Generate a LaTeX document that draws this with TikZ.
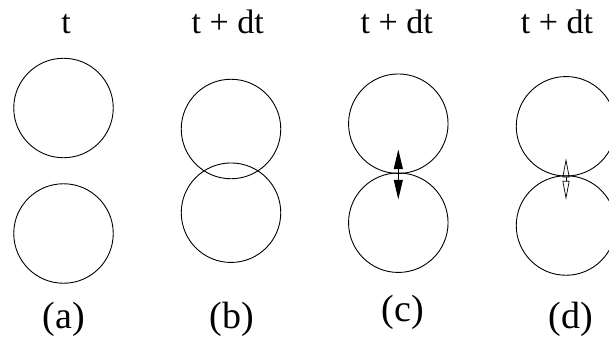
\documentclass[tikz,border=0pt]{standalone}
\usepackage{fontspec}
\setmainfont{Liberation Serif}
\usetikzlibrary{arrows.meta}
\begin{document}
\begin{tikzpicture}[x=1pt,y=-1pt,
  ball/.style={circle,draw,line width=0.9pt,minimum size=99.5pt,inner sep=0pt},
  toplabel/.style={anchor=base,font=\fontsize{34}{40}\selectfont,inner sep=0pt},
  botlabel/.style={anchor=base,font=\fontsize{38}{44}\selectfont,inner sep=0pt},
  fullarrow/.style={line width=0.8pt,{Triangle[length=19.5pt,width=9pt]}-{Triangle[length=19.5pt,width=9pt]}},
  openarrow/.style={line width=0.7pt,{Triangle[open,length=19pt,width=7pt]}-{Triangle[open,length=19pt,width=7pt]}}]
\useasboundingbox (0,0) rectangle (609,342);
\fill[white] (0,0) rectangle (609,342);
% (a)
\node[ball] (a1) at (63.5,108) {};
\node[ball] (a2) at (63.5,233.5) {};
\node[toplabel] (ta) at (66,34) {t};
\node[botlabel] (la) at (64,328) {(a)};
% (b)
\node[ball] (b1) at (231,129) {};
\node[ball] (b2) at (231,212.7) {};
\node[toplabel] (tb) at (227.7,34) {t + dt};
\node[botlabel] (lb) at (232,328) {(b)};
% (c)
\node[ball] (c1) at (398.3,123.7) {};
\node[ball] (c2) at (398.3,222.7) {};
\node[toplabel] (tc) at (396.7,34) {t + dt};
\node[botlabel] (lc) at (403,321) {(c)};
\coordinate (cu) at (398.3,149.5);
\coordinate (cd) at (398.3,199.3);
\draw[fullarrow] (cu) -- (cd);
% (d)
\node[ball] (d1) at (566,126.3) {};
\node[ball] (d2) at (566,225.5) {};
\node[toplabel] (td) at (557,34) {t + dt};
\node[botlabel] (ld) at (571,328) {(d)};
\coordinate (du) at (566,158.3);
\coordinate (dd) at (566,199.8);
\draw[openarrow] (du) -- (dd);
\end{tikzpicture}
\end{document}
